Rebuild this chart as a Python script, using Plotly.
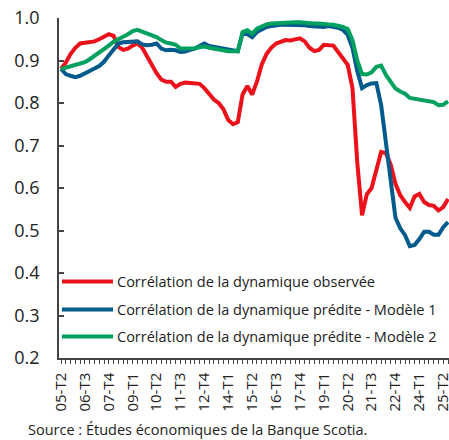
import plotly.graph_objects as go

# Quarterly periods from 2005-T2 to 2025-T3
start_year, start_q, n_periods = 2005, 2, 82
periods = []
y, q = start_year, start_q
for _ in range(n_periods):
    periods.append(f"{y % 100:02d}-T{q}")
    q += 1
    if q > 4:
        q = 1
        y += 1
label_every = 5

observed = [0.88, 0.895, 0.915, 0.93, 0.94, 0.942, 0.945, 0.945, 0.95, 0.955,
            0.962, 0.958, 0.932, 0.925, 0.928, 0.935, 0.94, 0.93, 0.91, 0.89,
            0.87, 0.855, 0.85, 0.85, 0.838, 0.845, 0.848, 0.847, 0.847, 0.845,
            0.835, 0.82, 0.808, 0.80, 0.785, 0.76, 0.75, 0.755, 0.82, 0.84,
            0.82, 0.85, 0.89, 0.915, 0.93, 0.94, 0.945, 0.948, 0.947, 0.95,
            0.952, 0.945, 0.93, 0.922, 0.925, 0.937, 0.935, 0.935, 0.92, 0.905,
            0.89, 0.835, 0.66, 0.536, 0.585, 0.60, 0.645, 0.685, 0.682, 0.655,
            0.61, 0.583, 0.567, 0.553, 0.58, 0.586, 0.567, 0.56, 0.558, 0.547,
            0.555, 0.574]

model1 = [0.88, 0.868, 0.864, 0.861, 0.864, 0.869, 0.875, 0.881, 0.887, 0.897,
          0.912, 0.928, 0.94, 0.943, 0.944, 0.944, 0.945, 0.938, 0.936, 0.937,
          0.94, 0.928, 0.924, 0.925, 0.924, 0.92, 0.921, 0.925, 0.928, 0.934,
          0.94, 0.934, 0.932, 0.932, 0.93, 0.928, 0.925, 0.922, 0.963, 0.962,
          0.955, 0.967, 0.973, 0.979, 0.981, 0.983, 0.984, 0.984, 0.984, 0.985,
          0.984, 0.983, 0.981, 0.98, 0.98, 0.979, 0.981, 0.98, 0.977, 0.972,
          0.96, 0.93, 0.875, 0.835, 0.842, 0.846, 0.847, 0.795, 0.71, 0.61,
          0.53, 0.505, 0.489, 0.463, 0.466, 0.48, 0.497, 0.497, 0.49, 0.49,
          0.508, 0.52]

model2 = [0.88, 0.883, 0.886, 0.888, 0.891, 0.896, 0.903, 0.911, 0.918, 0.925,
          0.935, 0.944, 0.951, 0.956, 0.962, 0.969, 0.972, 0.968, 0.963, 0.959,
          0.955, 0.948, 0.942, 0.94, 0.937, 0.928, 0.928, 0.929, 0.929, 0.931,
          0.933, 0.93, 0.928, 0.925, 0.922, 0.922, 0.922, 0.922, 0.967, 0.971,
          0.963, 0.975, 0.98, 0.985, 0.987, 0.988, 0.988, 0.989, 0.989, 0.99,
          0.99, 0.989, 0.986, 0.987, 0.987, 0.987, 0.985, 0.984, 0.982, 0.979,
          0.974, 0.948, 0.90, 0.868, 0.867, 0.872, 0.885, 0.888, 0.866, 0.848,
          0.834, 0.827, 0.822, 0.812, 0.81, 0.808, 0.806, 0.806, 0.802, 0.795,
          0.796, 0.804]

series_names = ["Corrélation de la dynamique observée",
                "Corrélation de la dynamique prédite - Modèle 1",
                "Corrélation de la dynamique prédite - Modèle 2"]
series_values = [observed, model1, model2]
series_colors = ["#EC111A", "#005A8C", "#00A05E"]

y_ticks = [0.2, 0.3, 0.4, 0.5, 0.6, 0.7, 0.8, 0.9, 1.0]

x_idx = list(range(len(periods)))
ticktext = [p if i % label_every == 0 else "" for i, p in enumerate(periods)]

fig = go.Figure()
for name, vals, col in zip(series_names, series_values, series_colors):
    fig.add_trace(go.Scatter(x=x_idx, y=vals, mode="lines", name=name,
                             line=dict(color=col, width=4), showlegend=False))

W, H = 449, 440
ml, mr, mt, mb = 59, 0, 18, 82
pw, ph = W - ml - mr, H - mt - mb

def px_x(p):
    return (p - ml) / pw

def px_y(p):
    return (H - mb - p) / ph

shapes, annotations = [], []
legend_rows = [281.5, 309.5, 336.5]
for name, col, row in zip(series_names, series_colors, legend_rows):
    shapes.append(dict(type="line", xref="paper", yref="paper",
                       x0=px_x(62), x1=px_x(113), y0=px_y(row), y1=px_y(row),
                       line=dict(color=col, width=4)))
    annotations.append(dict(xref="paper", yref="paper", x=px_x(115), y=px_y(row),
                            text=name, showarrow=False, xanchor="left", yanchor="middle",
                            font=dict(size=14.5, color="#222222")))

annotations.append(dict(xref="paper", yref="paper", x=px_x(26), y=px_y(430),
                        text="Source : Études économiques de la Banque Scotia.",
                        showarrow=False, xanchor="left", yanchor="middle",
                        font=dict(size=14.5, color="#222222")))

fig.update_layout(
    width=W, height=H,
    margin=dict(l=ml, r=mr, t=mt, b=mb, autoexpand=False),
    paper_bgcolor="white", plot_bgcolor="white",
    font=dict(family="Open Sans, sans-serif", color="#222222"),
    shapes=shapes, annotations=annotations,
    xaxis=dict(range=[-0.42, 81.2], tickmode="array", tickvals=x_idx, ticktext=ticktext,
               tickangle=-90, ticks="outside", ticklen=4, tickwidth=1, tickcolor="#444444",
               showline=True, linecolor="#444444", linewidth=1.5, showgrid=False,
               zeroline=False, automargin=False, ticklabeloverflow="allow",
               ticklabelstandoff=3,
               tickfont=dict(size=15, color="#222222")),
    yaxis=dict(range=[0.2, 1.0], tickmode="array", tickvals=y_ticks,
               ticktext=[f"{v:.1f}" for v in y_ticks],
               ticks="inside", ticklen=5, tickwidth=1.5, tickcolor="#444444",
               showline=True, linecolor="#444444", linewidth=1.5, showgrid=False,
               zeroline=False, automargin=False, ticklabelstandoff=14,
               ticklabeloverflow="allow",
               tickfont=dict(size=18, color="#222222")),
)

fig.write_html("out.html", config={"displayModeBar": False},
               post_script="document.body.style.margin='0px';document.body.style.overflow='hidden';")
